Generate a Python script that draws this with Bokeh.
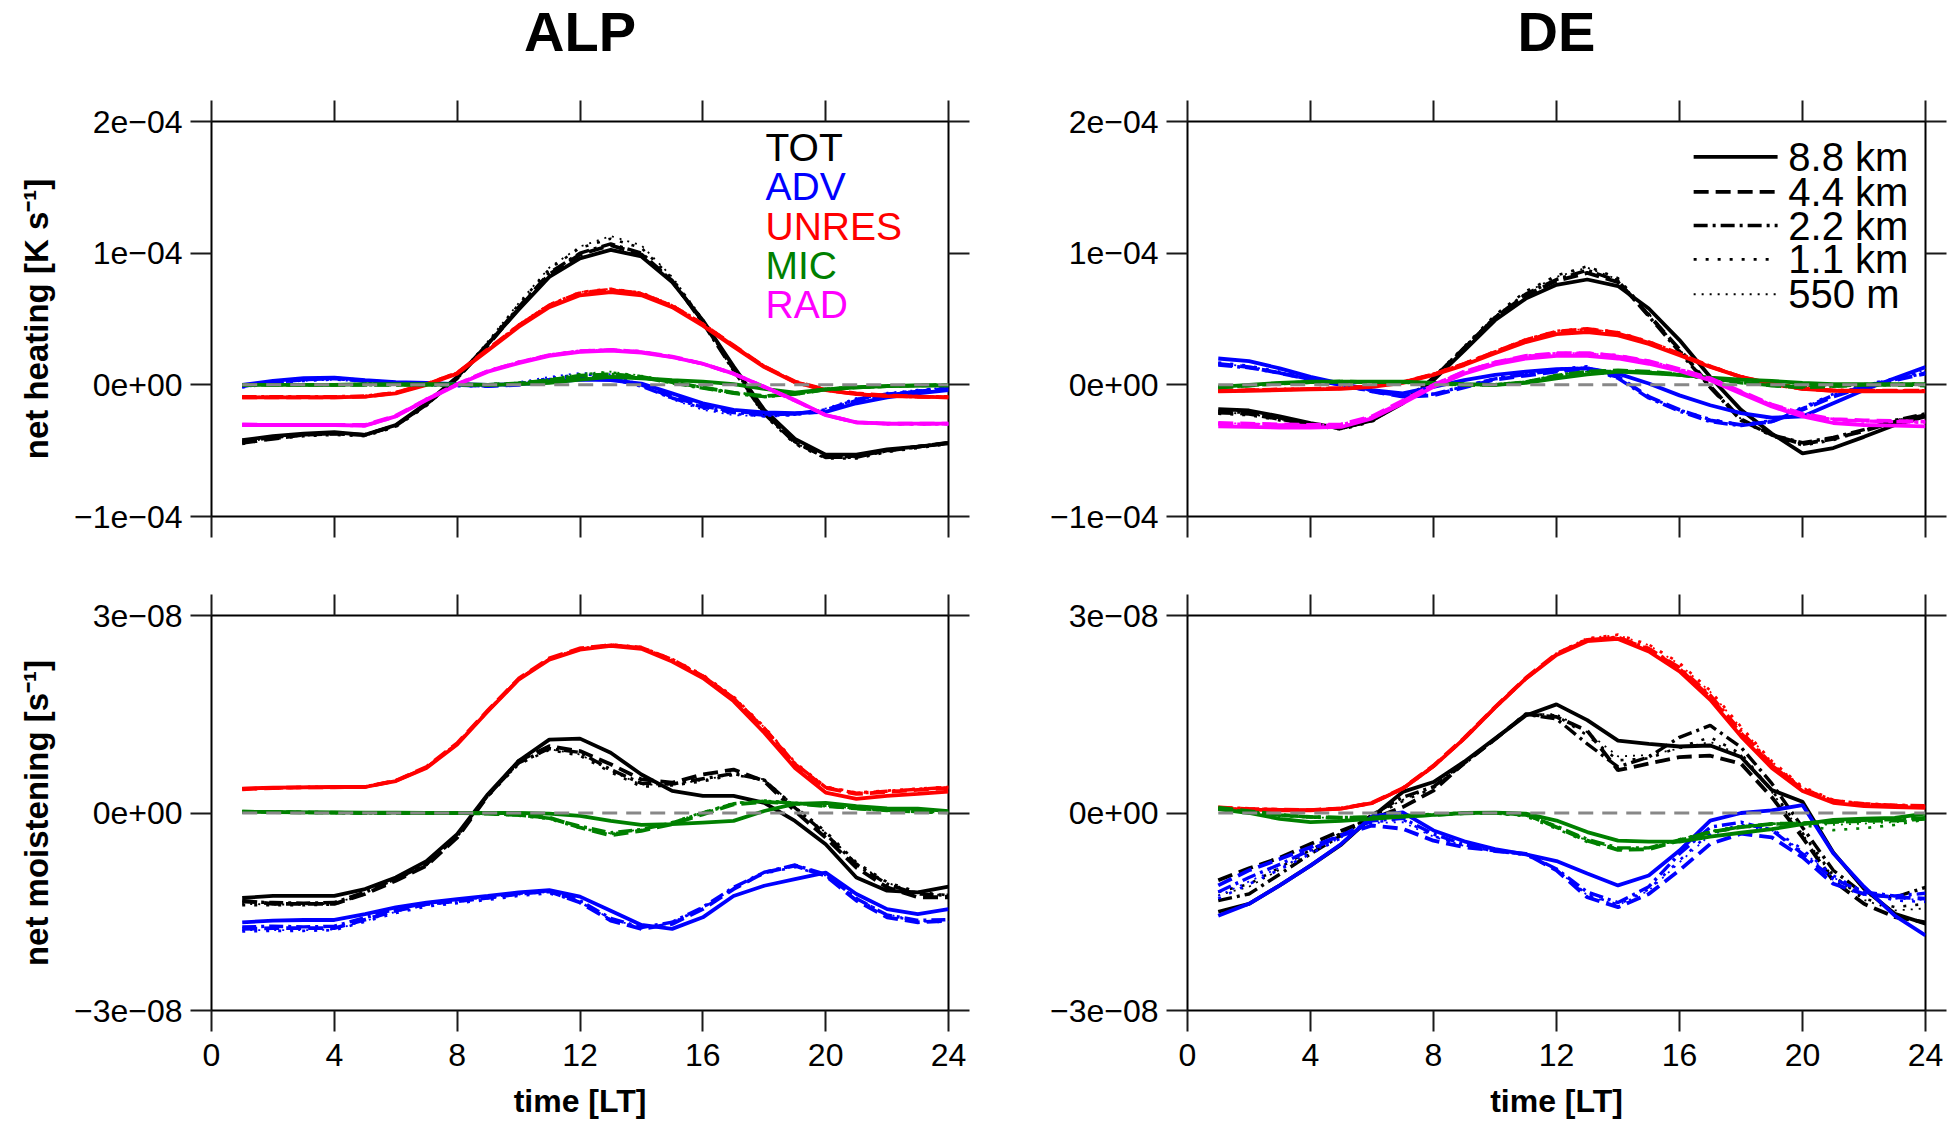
from bokeh.plotting import figure
from bokeh.models import LinearAxis, FixedTicker, Range1d, ColumnDataSource
from bokeh.layouts import row, column
from bokeh.embed import file_html
from bokeh.resources import INLINE
from bokeh.core.properties import value

# ---------------- data ----------------
hours = list(range(1, 25))
resolutions = ["8.8 km", "4.4 km", "2.2 km", "1.1 km", "550 m"]
components = ["TOT", "ADV", "UNRES", "MIC", "RAD"]
regions = ["ALP", "DE"]
x_ticks = [0, 4, 8, 12, 16, 20, 24]
heat_ticks = [-10, 0, 10, 20]            # units of 1e-5 K s-1
heat_tick_labels = ["−1e−04", "0e+00", "1e−04", "2e−04"]
moist_ticks = [-30, 0, 30]               # units of 1e-9 s-1
moist_tick_labels = ["−3e−08", "0e+00", "3e−08"]

# ALP net heating (1e-5 K s-1)
alp_heat_tot_8800 = [-4.2,-3.9,-3.7,-3.6,-3.8,-3.05,-1.4,0.6,3.1,5.7,8.2,9.6,10.25,9.75,7.8,4.9,1.4,-1.9,-4.1,-5.3,-5.3,-4.9,-4.7,-4.45]
alp_heat_tot_4400 = [-4.4,-4.1,-3.8,-3.7,-3.8,-3.1,-1.5,0.5,3.0,5.8,8.4,9.9,10.6,9.9,7.9,4.8,1.2,-2.1,-4.3,-5.5,-5.4,-5.0,-4.7,-4.4]
alp_heat_tot_2200 = [-4.3,-4.0,-3.8,-3.7,-3.8,-3.1,-1.5,0.5,3.1,5.9,8.5,10.0,10.7,10.0,7.9,4.7,1.1,-2.2,-4.4,-5.5,-5.5,-5.0,-4.7,-4.4]
alp_heat_tot_1100 = [-4.5,-4.1,-3.9,-3.8,-3.9,-3.2,-1.6,0.5,3.2,6.1,8.8,10.4,11.1,10.4,8.1,4.9,1.1,-2.3,-4.5,-5.6,-5.6,-5.1,-4.8,-4.5]
alp_heat_tot_550 = [-4.4,-4.0,-3.8,-3.7,-3.8,-3.1,-1.5,0.6,3.3,6.2,8.9,10.5,11.3,10.6,8.2,5.0,1.2,-2.2,-4.4,-5.5,-5.5,-5.0,-4.7,-4.5]
alp_heat_adv_8800 = [0.0,0.3,0.5,0.55,0.35,0.2,0.15,0.05,0.0,0.05,0.2,0.4,0.35,0.1,-0.65,-1.4,-1.9,-2.1,-2.15,-2.05,-1.4,-0.95,-0.65,-0.4]
alp_heat_adv_4400 = [-0.1,0.2,0.4,0.5,0.3,0.15,0.1,0.0,-0.1,0.0,0.3,0.5,0.45,0.0,-0.9,-1.6,-2.0,-2.2,-2.2,-2.0,-1.2,-0.8,-0.5,-0.3]
alp_heat_adv_2200 = [-0.1,0.2,0.4,0.5,0.3,0.1,0.1,0.0,-0.1,0.1,0.4,0.6,0.5,-0.1,-1.0,-1.7,-2.1,-2.3,-2.2,-1.9,-1.1,-0.7,-0.5,-0.3]
alp_heat_adv_1100 = [-0.2,0.1,0.3,0.4,0.3,0.1,0.0,-0.1,-0.1,0.1,0.5,0.8,0.7,0.0,-1.0,-1.8,-2.2,-2.4,-2.3,-1.9,-1.1,-0.7,-0.4,-0.2]
alp_heat_adv_550 = [-0.2,0.1,0.3,0.4,0.2,0.1,0.0,-0.1,-0.1,0.2,0.6,0.9,0.8,0.0,-1.1,-1.9,-2.3,-2.4,-2.3,-1.8,-1.0,-0.6,-0.4,-0.2]
alp_heat_unres_8800 = [-0.95,-0.95,-0.95,-0.95,-0.9,-0.65,0.0,0.85,2.6,4.4,5.9,6.8,7.05,6.8,5.9,4.5,2.9,1.35,0.2,-0.4,-0.7,-0.85,-0.9,-0.95]
alp_heat_unres_4400 = [-0.95,-0.95,-0.95,-0.95,-0.9,-0.6,0.05,0.9,2.7,4.5,6.0,6.95,7.2,6.9,6.0,4.6,3.0,1.4,0.25,-0.35,-0.65,-0.8,-0.9,-0.95]
alp_heat_unres_2200 = [-0.9,-0.9,-0.9,-0.9,-0.85,-0.6,0.05,0.9,2.65,4.5,6.05,7.0,7.25,6.95,6.0,4.6,2.95,1.4,0.2,-0.4,-0.7,-0.85,-0.9,-0.9]
alp_heat_unres_1100 = [-0.95,-0.95,-0.95,-0.95,-0.9,-0.65,0.0,0.9,2.7,4.55,6.1,7.05,7.3,7.0,6.05,4.65,3.0,1.4,0.25,-0.35,-0.65,-0.8,-0.9,-0.95]
alp_heat_unres_550 = [-0.9,-0.9,-0.9,-0.9,-0.85,-0.6,0.05,0.95,2.75,4.6,6.1,7.05,7.3,7.0,6.1,4.7,3.05,1.45,0.25,-0.35,-0.65,-0.8,-0.85,-0.9]
alp_heat_mic_8800 = [0.0,0.0,0.0,0.0,0.05,0.05,0.05,0.05,0.0,0.05,0.15,0.4,0.6,0.5,0.35,0.25,0.05,-0.3,-0.6,-0.35,-0.2,-0.1,-0.05,-0.05]
alp_heat_mic_4400 = [0.0,0.0,0.0,0.0,0.0,0.0,0.0,0.0,0.0,0.1,0.35,0.7,0.8,0.6,0.2,-0.2,-0.6,-0.85,-0.7,-0.35,-0.2,-0.1,-0.05,0.0]
alp_heat_mic_2200 = [0.0,0.0,0.0,0.0,0.0,0.0,0.0,0.0,0.0,0.1,0.3,0.65,0.8,0.55,0.15,-0.25,-0.65,-0.9,-0.7,-0.35,-0.2,-0.1,-0.05,0.0]
alp_heat_mic_1100 = [0.0,0.0,0.0,0.0,0.0,0.0,0.0,0.0,0.05,0.15,0.4,0.8,0.95,0.65,0.2,-0.2,-0.6,-0.85,-0.65,-0.3,-0.15,-0.1,-0.05,0.0]
alp_heat_mic_550 = [0.0,0.0,0.0,0.0,0.0,0.0,0.0,0.0,0.05,0.15,0.45,0.85,1.0,0.7,0.25,-0.15,-0.55,-0.8,-0.6,-0.3,-0.15,-0.05,0.0,0.0]
alp_heat_rad_8800 = [-3.05,-3.05,-3.05,-3.05,-3.1,-2.4,-1.15,0.0,1.0,1.65,2.2,2.5,2.6,2.45,2.1,1.6,0.85,-0.15,-1.15,-2.3,-2.85,-2.95,-2.95,-2.95]
alp_heat_rad_4400 = [-3.0,-3.05,-3.05,-3.05,-3.05,-2.35,-1.1,0.05,1.05,1.7,2.25,2.55,2.65,2.5,2.15,1.6,0.85,-0.15,-1.2,-2.3,-2.85,-2.95,-2.95,-2.95]
alp_heat_rad_2200 = [-3.05,-3.05,-3.05,-3.05,-3.1,-2.4,-1.1,0.05,1.05,1.7,2.25,2.55,2.65,2.5,2.1,1.6,0.85,-0.15,-1.2,-2.3,-2.85,-2.95,-2.95,-2.95]
alp_heat_rad_1100 = [-3.1,-3.1,-3.1,-3.1,-3.15,-2.45,-1.15,0.05,1.05,1.75,2.3,2.6,2.7,2.55,2.15,1.6,0.85,-0.2,-1.2,-2.3,-2.85,-3.0,-3.0,-3.0]
alp_heat_rad_550 = [-3.05,-3.05,-3.05,-3.05,-3.1,-2.4,-1.1,0.05,1.1,1.75,2.3,2.6,2.7,2.55,2.15,1.65,0.9,-0.1,-1.15,-2.25,-2.8,-2.95,-2.95,-2.95]

# DE net heating (1e-5 K s-1)
de_heat_tot_8800 = [-1.85,-1.95,-2.4,-2.9,-3.3,-2.7,-1.4,0.35,2.6,4.9,6.55,7.6,8.0,7.5,5.8,3.4,0.6,-1.9,-3.7,-5.2,-4.8,-3.95,-3.05,-2.4]
de_heat_tot_4400 = [-2.1,-2.2,-2.6,-3.0,-3.3,-2.7,-1.3,0.5,2.8,5.1,6.8,7.9,8.5,7.8,5.3,2.7,-0.1,-2.6,-3.8,-4.5,-4.1,-3.5,-2.8,-2.3]
de_heat_tot_2200 = [-2.0,-2.1,-2.5,-3.0,-3.3,-2.7,-1.3,0.5,2.8,5.1,6.9,8.0,8.7,7.9,5.2,2.5,-0.2,-2.7,-3.8,-4.4,-4.0,-3.4,-2.7,-2.2]
de_heat_tot_1100 = [-2.2,-2.3,-2.7,-3.1,-3.4,-2.8,-1.3,0.6,2.9,5.3,7.1,8.3,9.0,8.1,5.4,2.6,-0.2,-2.7,-3.9,-4.6,-4.2,-3.5,-2.8,-2.3]
de_heat_tot_550 = [-2.1,-2.2,-2.6,-3.0,-3.3,-2.7,-1.3,0.6,2.9,5.2,7.0,8.2,8.9,8.0,5.4,2.7,-0.1,-2.6,-3.8,-4.5,-4.1,-3.4,-2.7,-2.2]
de_heat_adv_8800 = [2.0,1.8,1.25,0.6,0.1,-0.4,-0.65,-0.15,0.35,0.75,1.0,1.2,1.25,0.85,0.1,-0.8,-1.55,-2.15,-2.5,-2.4,-1.4,-0.4,0.5,1.35]
de_heat_adv_4400 = [1.6,1.35,0.9,0.4,0.0,-0.5,-0.9,-0.8,-0.2,0.4,0.7,1.0,1.2,0.6,-0.9,-1.9,-2.7,-3.05,-2.8,-1.9,-0.9,-0.15,0.35,0.85]
de_heat_adv_2200 = [1.5,1.3,0.9,0.4,0.0,-0.5,-0.85,-0.7,-0.1,0.45,0.8,1.1,1.3,0.5,-1.0,-2.0,-2.8,-3.1,-2.8,-1.8,-0.8,-0.1,0.4,0.9]
de_heat_adv_1100 = [1.7,1.45,1.0,0.5,0.05,-0.45,-0.8,-0.7,-0.1,0.5,0.85,1.2,1.4,0.6,-0.9,-1.9,-2.6,-3.0,-2.7,-1.7,-0.7,0.0,0.5,1.0]
de_heat_adv_550 = [1.6,1.4,0.95,0.45,0.0,-0.5,-0.85,-0.75,-0.15,0.45,0.8,1.15,1.35,0.55,-0.95,-1.95,-2.7,-3.05,-2.75,-1.75,-0.75,0.0,0.45,1.1]
de_heat_unres_8800 = [-0.5,-0.45,-0.4,-0.35,-0.3,-0.15,0.15,0.75,1.5,2.4,3.25,3.85,4.0,3.75,3.1,2.25,1.35,0.6,0.1,-0.3,-0.45,-0.5,-0.5,-0.5]
de_heat_unres_4400 = [-0.45,-0.4,-0.35,-0.3,-0.25,-0.1,0.2,0.8,1.6,2.5,3.4,4.05,4.25,3.95,3.25,2.35,1.4,0.6,0.05,-0.3,-0.45,-0.45,-0.45,-0.45]
de_heat_unres_2200 = [-0.45,-0.4,-0.35,-0.3,-0.25,-0.1,0.2,0.8,1.6,2.5,3.4,4.0,4.2,3.9,3.2,2.3,1.4,0.6,0.1,-0.25,-0.4,-0.45,-0.45,-0.45]
de_heat_unres_1100 = [-0.5,-0.45,-0.4,-0.35,-0.3,-0.1,0.2,0.85,1.65,2.55,3.45,4.1,4.3,4.0,3.3,2.4,1.45,0.65,0.1,-0.25,-0.4,-0.45,-0.5,-0.5]
de_heat_unres_550 = [-0.45,-0.4,-0.35,-0.3,-0.25,-0.1,0.2,0.8,1.6,2.5,3.4,4.05,4.25,3.95,3.25,2.35,1.45,0.65,0.1,-0.25,-0.4,-0.45,-0.45,-0.45]
de_heat_mic_8800 = [-0.15,0.0,0.15,0.25,0.25,0.25,0.25,0.15,0.05,0.0,0.15,0.5,0.8,1.0,0.9,0.75,0.55,0.4,0.3,0.15,0.05,0.05,0.05,0.05]
de_heat_mic_4400 = [-0.2,-0.05,0.1,0.2,0.25,0.2,0.2,0.1,0.0,0.0,0.2,0.7,1.0,1.1,1.0,0.8,0.5,0.2,-0.05,-0.2,-0.1,0.0,0.0,-0.05]
de_heat_mic_2200 = [-0.2,-0.05,0.1,0.2,0.25,0.2,0.2,0.1,0.0,0.0,0.2,0.65,0.95,1.05,0.95,0.75,0.45,0.15,-0.05,-0.15,-0.1,0.0,0.0,0.0]
de_heat_mic_1100 = [-0.1,0.0,0.1,0.2,0.2,0.2,0.15,0.1,0.0,0.0,0.25,0.75,1.05,1.1,1.0,0.8,0.5,0.2,0.0,-0.1,0.0,0.05,0.1,0.1]
de_heat_mic_550 = [-0.15,0.0,0.1,0.2,0.2,0.2,0.15,0.1,0.0,0.0,0.25,0.7,1.0,1.1,1.0,0.8,0.5,0.2,0.0,-0.1,-0.05,0.05,0.05,0.05]
de_heat_rad_8800 = [-3.15,-3.2,-3.25,-3.25,-3.2,-2.55,-1.4,-0.15,0.85,1.55,2.0,2.2,2.2,2.0,1.6,1.05,0.35,-0.65,-1.65,-2.4,-2.9,-3.05,-3.1,-3.15]
de_heat_rad_4400 = [-2.9,-2.95,-3.0,-3.05,-3.0,-2.4,-1.2,0.0,1.0,1.7,2.2,2.4,2.4,2.2,1.8,1.2,0.5,-0.5,-1.5,-2.2,-2.6,-2.7,-2.75,-2.8]
de_heat_rad_2200 = [-2.95,-3.0,-3.05,-3.1,-3.05,-2.45,-1.25,0.0,1.0,1.7,2.15,2.35,2.35,2.15,1.75,1.15,0.45,-0.55,-1.55,-2.25,-2.65,-2.75,-2.8,-2.85]
de_heat_rad_1100 = [-3.0,-3.05,-3.1,-3.1,-3.05,-2.45,-1.25,0.0,1.0,1.7,2.2,2.4,2.45,2.25,1.8,1.2,0.5,-0.5,-1.5,-2.2,-2.6,-2.75,-2.8,-2.85]
de_heat_rad_550 = [-2.9,-2.95,-3.0,-3.05,-3.0,-2.4,-1.2,0.05,1.05,1.75,2.2,2.4,2.4,2.2,1.8,1.2,0.5,-0.5,-1.5,-2.2,-2.6,-2.7,-2.75,-2.8]

# ALP net moistening (1e-9 s-1)
alp_moist_tot_8800 = [-12.9,-12.6,-12.6,-12.6,-11.55,-9.8,-7.3,-3.2,2.85,7.9,11.15,11.3,9.15,5.85,3.35,2.6,2.6,1.55,-1.2,-4.75,-9.8,-11.8,-12.05,-11.2]
alp_moist_tot_4400 = [-13.3,-13.8,-13.8,-13.8,-12.3,-10.3,-8.0,-3.75,2.6,7.9,10.15,9.4,7.4,5.1,4.6,5.85,6.6,4.85,0.3,-3.75,-8.3,-11.3,-12.8,-12.8]
alp_moist_tot_2200 = [-13.5,-13.6,-13.7,-13.6,-12.0,-10.0,-7.8,-3.5,2.7,7.6,9.8,9.2,6.6,4.5,4.4,5.2,6.0,5.0,0.8,-3.2,-7.8,-10.8,-12.3,-12.5]
alp_moist_tot_1100 = [-14.0,-14.0,-14.0,-13.9,-12.3,-10.2,-7.9,-3.6,2.5,7.4,9.6,8.7,6.2,4.0,4.2,4.8,5.8,5.0,1.0,-2.8,-7.5,-10.5,-12.0,-12.5]
alp_moist_tot_550 = [-13.8,-13.9,-13.9,-13.8,-12.2,-10.1,-7.8,-3.5,2.6,7.5,9.7,8.9,6.4,4.3,4.3,5.0,5.9,5.1,1.0,-3.0,-7.6,-10.6,-12.1,-12.6]
alp_moist_adv_8800 = [-16.6,-16.35,-16.25,-16.25,-15.35,-14.35,-13.6,-13.1,-12.6,-12.05,-11.7,-12.7,-14.85,-17.0,-17.6,-15.85,-12.6,-11.05,-10.05,-9.05,-12.3,-14.6,-15.35,-14.6]
alp_moist_adv_4400 = [-17.6,-17.5,-17.5,-17.5,-16.2,-14.85,-13.85,-13.4,-12.9,-12.3,-11.9,-13.6,-16.35,-17.6,-16.85,-14.6,-11.55,-9.05,-8.0,-9.55,-13.3,-15.85,-16.6,-16.35]
alp_moist_adv_2200 = [-17.3,-17.2,-17.3,-17.2,-15.9,-14.6,-13.7,-13.2,-12.7,-12.2,-11.8,-13.3,-16.0,-17.4,-16.6,-14.3,-11.3,-9.0,-7.9,-9.3,-13.0,-15.5,-16.3,-16.2]
alp_moist_adv_1100 = [-18.0,-17.9,-17.9,-17.8,-16.5,-15.2,-14.2,-13.7,-13.2,-12.6,-12.2,-13.5,-16.2,-17.5,-16.7,-14.4,-11.5,-9.2,-8.2,-9.6,-13.0,-15.6,-16.4,-16.6]
alp_moist_adv_550 = [-17.8,-17.8,-17.8,-17.7,-16.4,-15.0,-14.0,-13.5,-13.0,-12.4,-12.0,-13.4,-16.1,-17.4,-16.6,-14.3,-11.4,-9.1,-8.1,-9.5,-12.9,-15.4,-16.3,-16.5]
alp_moist_unres_8800 = [3.7,3.85,3.9,3.95,3.95,4.85,6.85,10.4,15.45,20.25,23.3,24.8,25.4,24.95,23.0,20.5,17.0,12.2,6.85,3.1,2.15,2.6,2.9,3.25]
alp_moist_unres_4400 = [3.6,3.8,3.9,3.9,3.95,4.9,7.0,10.6,15.6,20.4,23.5,25.0,25.5,25.1,23.3,20.8,17.4,12.8,7.4,3.8,2.9,3.2,3.5,3.8]
alp_moist_unres_2200 = [3.7,3.8,3.9,3.95,4.0,4.9,6.9,10.5,15.5,20.3,23.4,24.9,25.5,25.1,23.2,20.8,17.5,12.9,7.5,3.9,3.0,3.3,3.6,3.9]
alp_moist_unres_1100 = [3.6,3.75,3.85,3.9,3.95,4.85,6.9,10.5,15.5,20.3,23.4,25.0,25.6,25.2,23.4,21.0,17.7,13.1,7.7,4.0,3.1,3.4,3.7,4.0]
alp_moist_unres_550 = [3.7,3.8,3.9,3.95,4.0,4.9,6.95,10.6,15.6,20.4,23.5,25.1,25.6,25.2,23.4,20.9,17.6,13.0,7.6,3.9,3.0,3.3,3.6,3.9]
alp_moist_mic_8800 = [0.2,0.15,0.1,0.1,0.05,0.05,0.0,0.0,0.0,0.0,-0.1,-0.45,-1.2,-1.8,-1.7,-1.45,-1.2,0.3,1.4,1.55,1.05,0.7,0.65,0.3]
alp_moist_mic_4400 = [0.2,0.15,0.1,0.05,0.0,0.0,0.0,0.0,-0.1,-0.3,-0.7,-2.2,-3.4,-2.7,-1.7,-0.2,1.3,1.7,1.45,1.05,0.7,0.4,0.2,0.1]
alp_moist_mic_2200 = [0.2,0.15,0.1,0.05,0.0,0.0,0.0,0.0,-0.1,-0.3,-0.8,-2.0,-3.0,-2.5,-1.5,0.0,1.4,1.8,1.5,1.1,0.7,0.4,0.2,0.1]
alp_moist_mic_1100 = [0.25,0.2,0.1,0.05,0.0,0.0,0.0,-0.05,-0.15,-0.4,-0.9,-2.3,-3.2,-2.6,-1.4,0.1,1.5,1.9,1.6,1.1,0.7,0.4,0.25,0.1]
alp_moist_mic_550 = [0.2,0.15,0.1,0.05,0.0,0.0,0.0,-0.05,-0.1,-0.35,-0.85,-2.1,-3.1,-2.5,-1.4,0.1,1.4,1.8,1.5,1.1,0.7,0.4,0.2,0.1]

# DE net moistening (1e-9 s-1)
de_moist_tot_8800 = [-15.0,-13.8,-11.0,-8.0,-4.8,-0.6,3.2,4.7,7.8,11.3,14.8,16.5,14.1,11.0,10.5,10.1,10.25,8.5,3.5,1.7,-6.0,-11.5,-15.3,-16.8]
de_moist_tot_4400 = [-10.2,-8.4,-6.8,-4.7,-2.7,-0.9,0.9,3.4,7.6,11.2,15.0,14.6,12.5,6.5,7.5,8.5,8.7,7.5,2.4,-3.7,-10.3,-13.8,-15.8,-16.6]
de_moist_tot_2200 = [-13.3,-12.3,-9.3,-6.2,-3.4,-0.3,2.4,4.0,7.5,11.2,15.0,14.3,10.5,7.0,8.5,11.5,13.3,10.0,4.5,-2.2,-8.7,-12.3,-12.8,-11.3]
de_moist_tot_1100 = [-12.0,-10.8,-8.3,-5.6,-3.0,-0.5,1.8,3.8,7.6,11.3,15.1,14.8,11.8,8.0,8.3,10.0,11.5,9.0,3.5,-3.0,-9.5,-13.0,-14.3,-13.8]
de_moist_tot_550 = [-12.5,-11.2,-8.6,-5.8,-3.1,-0.4,2.0,3.9,7.7,11.3,15.0,15.0,12.3,8.6,8.8,9.8,10.8,8.8,3.2,-3.2,-9.8,-13.2,-14.8,-14.5]
de_moist_adv_8800 = [-15.6,-13.8,-11.0,-8.0,-4.7,-0.5,0.1,-2.65,-4.3,-5.5,-6.3,-7.3,-9.2,-11.0,-9.5,-5.7,-1.15,0.0,0.4,1.2,-6.1,-11.2,-15.6,-18.6]
de_moist_adv_4400 = [-11.0,-8.7,-7.0,-5.2,-3.4,-1.9,-2.4,-4.2,-5.2,-5.7,-6.2,-8.7,-12.8,-14.3,-12.3,-8.7,-4.7,-3.15,-3.7,-6.7,-10.75,-12.3,-12.8,-13.0]
de_moist_adv_2200 = [-12.0,-9.8,-7.8,-5.6,-3.4,-1.2,-0.8,-3.2,-4.8,-5.8,-6.2,-8.5,-12.0,-13.6,-11.2,-6.2,-2.15,-1.4,-2.6,-6.2,-10.0,-12.0,-12.6,-12.2]
de_moist_adv_1100 = [-13.0,-10.8,-8.6,-6.2,-3.8,-1.4,-1.0,-3.5,-5.0,-5.8,-6.4,-8.6,-12.4,-13.9,-11.6,-7.2,-3.0,-1.8,-2.4,-5.5,-9.5,-12.0,-13.3,-13.5]
de_moist_adv_550 = [-12.6,-10.4,-8.3,-6.0,-3.7,-1.5,-1.4,-3.6,-5.0,-5.7,-6.3,-8.6,-12.5,-14.0,-11.8,-7.5,-3.3,-2.0,-2.6,-5.8,-9.8,-12.1,-13.0,-13.2]
de_moist_unres_8800 = [0.65,0.5,0.4,0.4,0.65,1.5,3.7,7.1,11.3,16.0,20.4,24.0,26.1,26.45,24.55,21.5,17.2,11.65,6.85,3.35,1.55,1.05,0.9,0.8]
de_moist_unres_4400 = [0.8,0.6,0.5,0.45,0.7,1.55,3.75,7.2,11.4,16.1,20.5,24.2,26.3,26.6,24.9,21.9,17.6,12.1,7.2,3.6,1.8,1.3,1.1,1.0]
de_moist_unres_2200 = [0.9,0.65,0.5,0.45,0.7,1.5,3.7,7.1,11.3,16.0,20.4,24.1,26.3,26.7,25.0,22.1,17.9,12.4,7.4,3.7,1.9,1.4,1.2,1.1]
de_moist_unres_1100 = [0.7,0.55,0.45,0.4,0.65,1.5,3.6,7.0,11.2,15.9,20.4,24.2,26.5,27.1,25.6,22.8,18.6,13.1,7.9,4.0,2.0,1.4,1.2,1.0]
de_moist_unres_550 = [0.8,0.6,0.5,0.45,0.7,1.5,3.7,7.1,11.3,16.0,20.5,24.3,26.6,27.0,25.5,22.6,18.4,12.9,7.8,3.9,1.9,1.4,1.2,1.0]
de_moist_mic_8800 = [0.6,0.0,-0.9,-1.4,-1.2,-0.9,-0.55,-0.3,0.0,0.05,-0.1,-1.15,-2.9,-4.2,-4.35,-4.35,-3.6,-3.0,-2.45,-1.7,-1.05,-0.85,-0.75,-0.1]
de_moist_mic_4400 = [0.8,0.3,-0.3,-0.6,-0.7,-0.7,-0.5,-0.3,-0.05,0.0,-0.2,-2.15,-4.2,-5.6,-5.5,-4.2,-2.9,-2.15,-1.65,-1.6,-1.4,-1.2,-1.15,-0.9]
de_moist_mic_2200 = [0.6,0.2,-0.3,-0.6,-0.7,-0.6,-0.4,-0.2,0.0,0.0,-0.3,-2.0,-4.0,-5.3,-5.3,-4.1,-2.9,-2.1,-1.7,-1.5,-1.3,-1.1,-1.0,-0.7]
de_moist_mic_1100 = [0.7,0.2,-0.4,-0.7,-0.8,-0.7,-0.5,-0.3,-0.1,-0.05,-0.5,-2.4,-4.4,-5.5,-5.3,-4.0,-2.8,-2.0,-1.6,-1.8,-2.6,-2.3,-1.8,-1.0]
de_moist_mic_550 = [0.6,0.2,-0.4,-0.7,-0.7,-0.6,-0.4,-0.2,0.0,0.0,-0.4,-2.2,-4.2,-5.4,-5.3,-4.1,-2.8,-2.0,-1.6,-1.6,-1.8,-1.6,-1.4,-0.9]

# tables built from the named lists
ALP_HEAT = {
    "TOT": [alp_heat_tot_8800, alp_heat_tot_4400, alp_heat_tot_2200, alp_heat_tot_1100, alp_heat_tot_550],
    "ADV": [alp_heat_adv_8800, alp_heat_adv_4400, alp_heat_adv_2200, alp_heat_adv_1100, alp_heat_adv_550],
    "UNRES": [alp_heat_unres_8800, alp_heat_unres_4400, alp_heat_unres_2200, alp_heat_unres_1100, alp_heat_unres_550],
    "MIC": [alp_heat_mic_8800, alp_heat_mic_4400, alp_heat_mic_2200, alp_heat_mic_1100, alp_heat_mic_550],
    "RAD": [alp_heat_rad_8800, alp_heat_rad_4400, alp_heat_rad_2200, alp_heat_rad_1100, alp_heat_rad_550],
}
DE_HEAT = {
    "TOT": [de_heat_tot_8800, de_heat_tot_4400, de_heat_tot_2200, de_heat_tot_1100, de_heat_tot_550],
    "ADV": [de_heat_adv_8800, de_heat_adv_4400, de_heat_adv_2200, de_heat_adv_1100, de_heat_adv_550],
    "UNRES": [de_heat_unres_8800, de_heat_unres_4400, de_heat_unres_2200, de_heat_unres_1100, de_heat_unres_550],
    "MIC": [de_heat_mic_8800, de_heat_mic_4400, de_heat_mic_2200, de_heat_mic_1100, de_heat_mic_550],
    "RAD": [de_heat_rad_8800, de_heat_rad_4400, de_heat_rad_2200, de_heat_rad_1100, de_heat_rad_550],
}
ALP_MOIST = {
    "TOT": [alp_moist_tot_8800, alp_moist_tot_4400, alp_moist_tot_2200, alp_moist_tot_1100, alp_moist_tot_550],
    "ADV": [alp_moist_adv_8800, alp_moist_adv_4400, alp_moist_adv_2200, alp_moist_adv_1100, alp_moist_adv_550],
    "UNRES": [alp_moist_unres_8800, alp_moist_unres_4400, alp_moist_unres_2200, alp_moist_unres_1100, alp_moist_unres_550],
    "MIC": [alp_moist_mic_8800, alp_moist_mic_4400, alp_moist_mic_2200, alp_moist_mic_1100, alp_moist_mic_550],
}
DE_MOIST = {
    "TOT": [de_moist_tot_8800, de_moist_tot_4400, de_moist_tot_2200, de_moist_tot_1100, de_moist_tot_550],
    "ADV": [de_moist_adv_8800, de_moist_adv_4400, de_moist_adv_2200, de_moist_adv_1100, de_moist_adv_550],
    "UNRES": [de_moist_unres_8800, de_moist_unres_4400, de_moist_unres_2200, de_moist_unres_1100, de_moist_unres_550],
    "MIC": [de_moist_mic_8800, de_moist_mic_4400, de_moist_mic_2200, de_moist_mic_1100, de_moist_mic_550],
}

# ---------------- style ----------------
FONT = "Liberation Sans"
COLORS = {"TOT": "#000000", "ADV": "#0000ff", "UNRES": "#ff0000", "MIC": "#008000", "RAD": "#ff00ff"}
DASHES = ["solid", "15 7", "14 5 3 5", "3 9", "2 6"]
WIDTHS = [3.8, 3.8, 3.4, 2.6, 1.8]


def style_axis(ax, ticks, labels, show):
    ax.ticker = FixedTicker(ticks=ticks)
    ax.major_tick_out = 21
    ax.major_tick_in = 0
    ax.minor_tick_line_color = None
    ax.axis_line_color = None
    ax.major_tick_line_color = "#1a1a1a"
    ax.major_tick_line_width = 2
    ax.major_label_text_font = FONT
    ax.major_label_text_color = "black"
    if show:
        ax.major_label_text_font_size = "32px"
        ax.major_label_overrides = dict(zip(ticks, labels))
    else:
        ax.major_label_text_font_size = "1px"
        ax.major_label_standoff = 0
        ax.major_label_overrides = {t: "" for t in ticks}


def title_fig(name, mb_left, mb_right, fw):
    t = figure(frame_width=fw, frame_height=62, x_range=Range1d(0, 24),
               y_range=Range1d(0, 1), output_backend="svg",
               toolbar_location=None, title=None,
               min_border_left=mb_left, min_border_right=mb_right,
               min_border_top=0, min_border_bottom=0,
               background_fill_color="white", border_fill_color="white")
    t.axis.visible = False
    t.grid.visible = False
    t.outline_line_color = None
    t.text(x=[12], y=[0.5], text=[name], text_align="center",
           text_baseline="alphabetic", text_font=value(FONT),
           text_font_size="56px", text_font_style="bold", text_color="black")
    return t


def panel(table, comps, ylo, yhi, yticks, ylabels, ylabel, show_x,
          mb_left, mb_right, mb_top, mb_bottom, fw):
    p = figure(frame_width=fw, frame_height=395,
               x_range=Range1d(0, 24), y_range=Range1d(ylo, yhi),
               output_backend="svg", toolbar_location=None, title=None,
               min_border_left=mb_left, min_border_right=mb_right,
               min_border_top=mb_top, min_border_bottom=mb_bottom,
               background_fill_color="white", border_fill_color="white")
    p.xgrid.visible = False
    p.ygrid.visible = False
    p.outline_line_color = "black"
    p.outline_line_width = 2
    p.outline_line_alpha = 1.0

    style_axis(p.below[0], x_ticks, [str(t) for t in x_ticks], show_x)
    style_axis(p.left[0], yticks, ylabels, True)
    p.left[0].major_label_standoff = 8
    if show_x:
        p.below[0].major_label_standoff = 12
    top_ax = LinearAxis()
    style_axis(top_ax, x_ticks, [], False)
    right_ax = LinearAxis()
    style_axis(right_ax, yticks, [], False)
    p.add_layout(top_ax, "above")
    p.add_layout(right_ax, "right")

    if ylabel:
        p.left[0].axis_label = ylabel
        p.left[0].axis_label_text_font = FONT
        p.left[0].axis_label_text_font_style = "bold"
        p.left[0].axis_label_text_font_size = "33px"
        p.left[0].axis_label_text_color = "black"
        p.left[0].axis_label_standoff = 16
    if show_x:
        p.below[0].axis_label = "time [LT]"
        p.below[0].axis_label_text_font = FONT
        p.below[0].axis_label_text_font_style = "bold"
        p.below[0].axis_label_text_font_size = "32px"
        p.below[0].axis_label_text_color = "black"
        p.below[0].axis_label_standoff = 14

    for comp in comps:
        for i in range(len(resolutions)):
            p.line(hours, table[comp][i], line_color=COLORS[comp],
                   line_dash=DASHES[i], line_width=WIDTHS[i])
    p.line([hours[0], hours[-1]], [0, 0], line_color="#888888",
           line_dash="15 9", line_width=3)
    return p


t_l = title_fig(regions[0], 211, 60, 737)
t_r = title_fig(regions[1], 179, 35, 738)
tl = panel(ALP_HEAT, components, -10, 20, heat_ticks, heat_tick_labels,
           "net heating [K s⁻¹]", False, 211, 60, 59, 50, 737)
tr = panel(DE_HEAT, components, -10, 20, heat_ticks, heat_tick_labels,
           None, False, 179, 35, 59, 50, 738)
bl = panel(ALP_MOIST, components[:4], -30, 30, moist_ticks, moist_tick_labels,
           "net moistening [s⁻¹]", True, 211, 60, 49, 114, 737)
br = panel(DE_MOIST, components[:4], -30, 30, moist_ticks, moist_tick_labels,
           None, True, 179, 35, 49, 114, 738)

# component legend (coloured words) in top-left panel
leg_src = ColumnDataSource(dict(
    x=[18.04] * 5,
    y=[18.03, 15.03, 12.05, 9.06, 6.12],
    text=components,
    color=[COLORS[c] for c in components],
))
tl.text(x="x", y="y", text="text", text_color="color", source=leg_src,
        text_font=value(FONT), text_font_size="39px",
        text_align="left", text_baseline="alphabetic")

# resolution legend in top-right panel
leg_y = [17.32, 14.66, 12.10, 9.53, 6.88]
for i, res in enumerate(resolutions):
    tr.line([16.46, 19.19], [leg_y[i], leg_y[i]], line_color="black",
            line_dash=DASHES[i], line_width=WIDTHS[i])
res_src = ColumnDataSource(dict(x=[19.54] * 5, y=leg_y, text=resolutions))
tr.text(x="x", y="y", text="text", source=res_src, text_color="black",
        text_font=value(FONT), text_font_size="40px",
        text_align="left", text_baseline="alphabetic")

layout = row(column(t_l, tl, bl), column(t_r, tr, br))
open("out.html", "w").write(file_html(layout, INLINE))
